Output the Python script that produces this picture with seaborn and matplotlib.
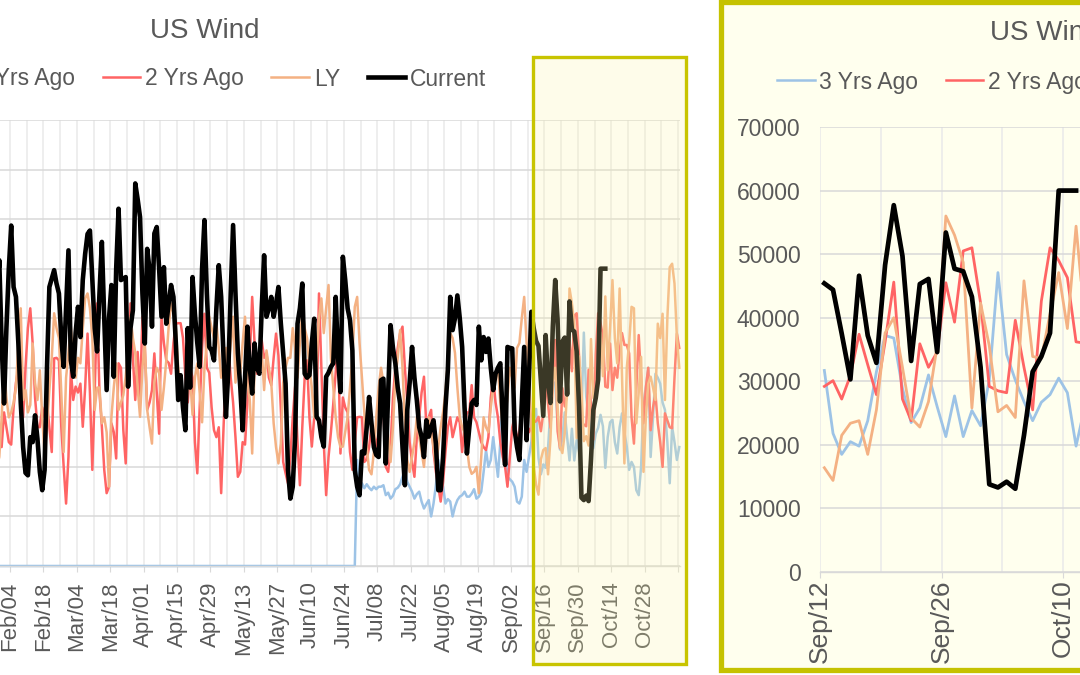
import numpy as np
import pandas as pd
import matplotlib
matplotlib.use("Agg")
import matplotlib.pyplot as plt
import seaborn as sns
from matplotlib.patches import Rectangle
from matplotlib.lines import Line2D

plt.rcParams['font.family'] = ['Liberation Sans', 'DejaVu Sans']

# ---------------- data ----------------
YEAR_START = pd.Timestamp('2023-01-01')
FIRST_DAY = 28          # first value is Jan 29 (day offset from Jan 1)
ZOOM_START = 254        # Sep 12: first day shown in the zoomed panel
series_names = ['3 Yrs Ago', '2 Yrs Ago', 'LY', 'Current']
chart_title = 'US Wind'

three_yrs_ago = ([0] * 151 + [   # flat at zero until late June
    21400, 14000, 16700, 15700, 16500, 15800, 15300, 16000, 15500, 16000,
    16000, 16300, 14300, 14800, 13600, 14200, 15500, 15800, 16500, 18000,
    19400, 17000, 16000, 15000, 13600, 14500, 15000, 13000, 11600, 12500,
    13300, 10000, 12600, 16300, 21400, 17000, 16000, 12600, 13500, 13000,
    10000, 12000, 13300, 14000, 14300, 15000, 14000, 14000, 14600, 15500,
    13600, 14000, 15000, 19000, 23400, 20000, 21400, 26000, 22000, 18000,
    25000, 35000, 26000, 18000, 17500, 17000, 16000, 13000, 12600, 14000,
    21400, 19000, 22000, 25000, 30000,
    31700, 21800, 18500, 20500, 19800, 23800, 31500, 37200, 36800, 28900,
    23500, 25800, 31000, 26000, 21300, 27700, 21300, 25400, 23000, 30200,
    47100, 34200, 30200, 26800, 23800, 26700, 27900, 30500, 28200, 19800,
    26000, 29000, 29500, 25000, 22700, 28000, 30800, 27000, 24100, 19400,
    21000, 20000, 15300, 14300, 20000, 32800, 36000, 40000, 22000, 30000,
    38800, 38000, 36800, 33000, 31500, 25000, 16700, 28100, 25000, 21400,
    24000])

two_yrs_ago = [
    25000, 24500, 24000, 31000, 28000, 25000, 24500, 32000, 37000, 40000,
    33000, 30000, 40000, 48000, 52000, 44900, 34000, 28100, 28000, 32000,
    30000, 33000, 28000, 23000, 41900, 42000, 41500, 28100, 20000, 12600,
    22000, 39500, 33500, 36200, 35000, 36800, 28100, 36000, 46900, 35000,
    19400, 35000, 53000, 35000, 28100, 19400, 14700, 16000, 28800, 27000,
    21700, 40900, 40000, 27400, 20700, 38200, 53000, 42000, 33500, 43200,
    34100, 50300, 44200, 31500, 33000, 35500, 42900, 35000, 26700, 50300,
    45000, 41500, 41000, 38800, 45000, 48900, 49000, 49000, 46000, 38200,
    33000, 40000, 38000, 25000, 18700, 32000, 44000, 50900, 40000, 39000,
    32000, 27400, 26000, 28000, 14700, 28000, 40000, 44500, 38000, 33000,
    26000, 18000, 19000, 25000, 24500, 33000, 42000, 54300, 45000, 38800,
    42000, 45500, 42000, 43000, 38000, 36500, 42000, 46900, 42500, 31500,
    21000, 18700, 16700, 22000, 30000, 36200, 25000, 16300, 28000, 38000,
    41500, 30000, 24100, 30000, 31000, 55000, 40000, 25000, 14300, 22000,
    27000, 32800, 39000, 46000, 22700, 34000, 32000, 31000, 23000, 19400,
    25000, 30000, 30100, 30000, 21000, 21500, 24000, 28500, 27000, 24000,
    27000, 30500, 31000, 20000, 19000, 24000, 34000, 40000, 44000, 47000,
    48300, 40000, 33000, 25000, 21000, 18000, 26000, 30000, 35000, 38200,
    28000, 30000, 31500, 23000, 19000, 16000, 13000, 17000, 23000, 28000,
    30000, 26000, 28000, 30000, 29000, 23000, 28000, 31000, 31000, 36500,
    30000, 29000, 27000, 25000, 24000, 23400, 26000, 34000, 38000, 33000,
    30000, 25000, 22000, 20000, 16000, 22000, 28000, 30000, 25000, 27000,
    32000, 34000, 29000, 27000, 28000, 29000,
    29200, 30100, 27200, 30900, 37400, 32600, 27900, 36200, 45600, 27200,
    23800, 35900, 32200, 34600, 45500, 39300, 50500, 51000, 42300, 29200,
    28500, 28200, 39600, 32200, 25500, 42600, 51000, 49000, 46300, 36200,
    36000, 44900, 35500, 40000, 38000, 43500, 47000, 44600, 44600, 42900,
    30000, 24700, 36000, 46600, 38000, 28800, 36000, 40000, 27400, 32000,
    34800, 28800, 25000, 20000, 30800, 29400, 28000, 27800, 38000, 46900,
    44000]

last_year = [
    20000, 22000, 30000, 40000, 34000, 30000, 31000, 33000, 36000, 45000,
    52000, 33500, 35500, 31000, 32500, 44900, 37000, 33500, 39500, 30000,
    22700, 28000, 35500, 42000, 51000, 48000, 46000, 35000, 23000, 38000,
    43000, 48300, 40900, 38000, 42000, 40900, 48000, 54000, 55000, 52000,
    46000, 31500, 36000, 36000, 28800, 30000, 27000, 16000, 30000, 36000,
    40900, 31500, 33000, 34500, 38200, 44000, 50300, 46000, 43000, 36000,
    30100, 40000, 44900, 31500, 28000, 24700, 37000, 40000, 39000, 31500,
    36000, 41500, 48300, 53000, 51000, 48000, 40000, 36000, 33000, 31500,
    36000, 38000, 30500, 38000, 40900, 35000, 29000, 40000, 45000, 50300,
    48000, 46000, 49000, 44000, 38000, 40000, 44000, 39500, 45000, 50300,
    37000, 42000, 39000, 45000, 50300, 37000, 33500, 22700, 40000, 42000,
    43000, 43500, 35500, 43500, 40000, 37000, 28800, 24000, 20700, 24700,
    37000, 40000, 42000, 42000, 48000, 44000, 38000, 45000, 51600, 48000,
    46000, 40000, 36000, 30000, 42000, 50000, 54000, 47000, 52000, 56700,
    42000, 36000, 30000, 26000, 24000, 24100, 27000, 30000, 36000, 42000,
    52300, 54300, 45000, 38000, 31000, 24000, 19400, 18500, 23000, 30000,
    36000, 40000, 37000, 32000, 26000, 21000, 28000, 38000, 42000, 47600,
    40000, 29000, 21500, 19000, 22000, 25000, 30000, 26000, 23000, 20000,
    26000, 30000, 27000, 24000, 20000, 24000, 28000, 31000, 35000, 41500,
    47000, 46000, 43000, 36000, 30000, 28000, 27000, 24000, 20000, 18600,
    19000, 20000, 14700, 22000, 30000, 28000, 27000, 32000, 36000, 38000,
    40000, 33000, 28000, 30000, 34000, 40000, 38000, 36000, 44000, 45000,
    50000, 54300, 45000, 38000, 28000, 20000,
    16400, 14400, 21500, 23400, 23800, 18500, 25500, 37600, 40000, 32200,
    24200, 22800, 26800, 35600, 56000, 53000, 48700, 25800, 42300, 35600,
    25200, 26200, 24300, 45800, 33900, 33600, 40600, 47100, 38300, 54400,
    39500, 48000, 57700, 46000, 40900, 56000, 38000, 20700, 40000, 45000,
    52300, 52000, 28800, 35000, 42200, 19000, 30000, 36800, 38200, 36000,
    33500, 48900, 46000, 50900, 33500, 50000, 60300, 61000, 57000, 46200,
    40000]

current = [
    52000, 61700, 45000, 32800, 48000, 60000, 68700, 56300, 54300, 45000,
    33000, 24000, 18800, 18300, 26000, 25000, 30400, 25700, 19000, 15300,
    19400, 40000, 56300, 58000, 59700, 57000, 55000, 46000, 40200, 52000,
    63700, 41500, 38200, 47000, 52300, 46200, 57700, 63000, 67000, 67700,
    58000, 48000, 43300, 55000, 65400, 50000, 35500, 50000, 56700, 38200,
    60000, 72100, 57700, 58000, 58300, 36200, 48000, 51600, 77200, 74000,
    70400, 55000, 44900, 64000, 59700, 48300, 67100, 68400, 60000, 50300,
    60300, 48900, 53000, 56700, 54300, 45000, 33500, 38500, 32000, 27400,
    48000, 36000, 58300, 50900, 45000, 40200, 60000, 69800, 55000, 44200,
    43500, 41500, 52000, 60700, 54300, 42000, 30100, 39500, 55000, 68800,
    55000, 42900, 36200, 27400, 38000, 48300, 40000, 34800, 44900, 40000,
    38800, 52000, 62700, 50300, 52000, 54300, 50300, 53000, 56300, 49000,
    42900, 36800, 19400, 13600, 16000, 26100, 48900, 52000, 57000, 38800,
    38000, 38500, 45000, 49900, 30100, 29400, 26000, 24100, 38200, 39000,
    40200, 40900, 54300, 42000, 35100, 62400, 57700, 52000, 49600, 43500,
    19400, 16000, 14300, 23100, 22700, 28000, 34100, 28800, 24000, 22400,
    22000, 37500, 37800, 20700, 35000, 48600, 44000, 40900, 36000, 32800,
    24000, 16300, 31500, 37000, 44200, 38000, 33500, 28000, 26100, 22000,
    29400, 26100, 28000, 29400, 24700, 15300, 15300, 22000, 32000, 39500,
    54300, 47600, 50000, 54600, 50000, 44200, 32000, 22700, 28000, 32800,
    33500, 32500, 48300, 41500, 46200, 43200, 45900, 40000, 35500, 38800,
    40000, 40900, 30000, 20400, 44200, 44000, 43900, 27400, 24000, 21400,
    33000, 44200, 25400, 38000, 51300, 48000,
    45400, 44400, 37500, 30300, 46600, 37200, 32900, 48300, 57700, 49700,
    33200, 45300, 46100, 34600, 53400, 47700, 47300, 43300, 32200, 13800,
    13300, 14200, 13100, 21500, 31500, 33900, 37600, 60000, 60000, 60000]

series_values = [three_yrs_ago, two_yrs_ago, last_year, current]
series_colors = ['#9DC3E6', '#FF6464', '#F4B183', '#000000']

frames = []
for name, vals in zip(series_names, series_values):
    day = FIRST_DAY + np.arange(len(vals))
    frames.append(pd.DataFrame({'series': name, 'day': day, 'x': day + 0.5,
                                'value': vals}))
df = pd.concat(frames, ignore_index=True)

def day_label(d):
    return (YEAR_START + pd.Timedelta(days=int(d))).strftime('%b/%d')

# ---------------- figure ----------------
W, H = 1080, 675
fig = plt.figure(figsize=(W / 100, H / 100), dpi=100)
fig.patch.set_facecolor('white')

GRAY_TXT = '#595959'
FS = 16.5

# zoomed panel background (behind everything)
fig.patches.append(Rectangle((721 / W, 1 - 670 / H), (1120 - 721) / W, 668 / H,
                             transform=fig.transFigure, facecolor='#FFFFEE',
                             edgecolor='#C5C200', lw=3.8, zorder=-1))

# left axes: day 0 .. 315, Feb 4 (day 34) at px 10, 2.386 px/day
PPD1 = 2.386
ax1_left = 10 - 34 * PPD1
ax1 = fig.add_axes([ax1_left / W, (H - 566) / H, 315 * PPD1 / W, 446 / H])
# right axes: Sep 12 (day 254) at px 820, 8.68 px/day
PPD2 = 8.68
ax2 = fig.add_axes([820 / W, (H - 572) / H, 61 * PPD2 / W, 445 / H])
ax2.patch.set_facecolor('none')

widths = {1: [1.8, 1.8, 1.8, 3.3], 2: [2.0, 2.0, 2.0, 3.4]}
for k, ax in ((1, ax1), (2, ax2)):
    for i, name in enumerate(series_names):
        sub = df[df['series'] == name]
        if k == 2:
            sub = sub[sub['day'] >= ZOOM_START]
        sns.lineplot(data=sub, x='x', y='value', color=series_colors[i],
                     linewidth=widths[k][i], ax=ax, legend=False,
                     clip_on=(k == 2), zorder=2 + i)
    ax.set_xlabel('')
    ax.set_ylabel('')
    for s in ('top', 'left', 'right'):
        ax.spines[s].set_visible(False)
    ax.spines['bottom'].set_color('#D9D9D9')
    ax.spines['bottom'].set_linewidth(1.0)
    ax.set_axisbelow(True)

# left axes ticks/grid (its value labels lie outside the visible crop)
ax1.set_xlim(0, 315)
ax1.set_ylim(0, 90000)
maj1 = np.arange(34, 315, 14)
ax1.set_xticks(maj1)
ax1.set_xticklabels([day_label(d) if d < 310 else '' for d in maj1])
ax1.set_xticks(np.arange(6, 316, 7), minor=True)
ax1.set_yticks(np.arange(0, 90001, 10000))
ax1.set_yticklabels([])

ax2.set_xlim(ZOOM_START, 315)
ax2.set_ylim(0, 70000)
maj2 = np.arange(ZOOM_START, 315, 14)
ax2.set_xticks(maj2)
ax2.set_xticklabels([day_label(d) for d in maj2])
ax2.set_xticks(np.arange(ZOOM_START, 316, 7), minor=True)
ax2.set_yticks(np.arange(0, 70001, 10000))
ax2.set_yticklabels([f'{v:d}' for v in range(0, 70001, 10000)])

for ax in (ax1, ax2):
    ax.yaxis.grid(True, color='#D9D9D9', lw=1.1)
    ax.xaxis.grid(True, which='both', color='#E9E9E9', lw=1.1)
    ax.tick_params(axis='x', which='minor', length=0)
    ax.tick_params(axis='y', length=0, labelsize=FS, labelcolor=GRAY_TXT, pad=14)
ax1.tick_params(axis='x', which='major', length=4, color='#D9D9D9',
                labelsize=16, labelcolor=GRAY_TXT, pad=7, labelrotation=90)
ax2.tick_params(axis='x', which='major', length=4, color='#D9D9D9',
                labelsize=19, labelcolor=GRAY_TXT, pad=1.5, labelrotation=90)

# titles
fig.text(205 / W, 1 - 31 / H, chart_title, ha='center', va='center',
         fontsize=20, color=GRAY_TXT)
fig.text(1045 / W, 1 - 33 / H, chart_title, ha='center', va='center',
         fontsize=20, color=GRAY_TXT)

# legends
handles = [Line2D([], [], color=c, lw=w) for c, w in zip(series_colors, [1.8, 1.8, 1.8, 3.3])]
for cx, cy in ((210, 79), (1053, 82)):
    fig.legend(handles, series_names, loc='center', bbox_to_anchor=(cx / W, 1 - cy / H),
               ncol=4, frameon=False, fontsize=FS, handlelength=1.65,
               handletextpad=0.2, columnspacing=1.2, labelcolor=GRAY_TXT,
               borderpad=0, borderaxespad=0)

# highlight overlay on the left chart (Sep 12 onward)
bx0, bx1, by0, by1 = 533, 686, 57, 664
fig.patches.append(Rectangle((bx0 / W, 1 - by1 / H), (bx1 - bx0) / W, (by1 - by0) / H,
                             transform=fig.transFigure, facecolor='#FCF5A5',
                             alpha=0.23, edgecolor='none', zorder=10))
fig.patches.append(Rectangle((bx0 / W, 1 - by1 / H), (bx1 - bx0) / W, (by1 - by0) / H,
                             transform=fig.transFigure, facecolor='none',
                             edgecolor='#C8C400', lw=2.4, zorder=11))

fig.savefig('out.png', dpi=100)
